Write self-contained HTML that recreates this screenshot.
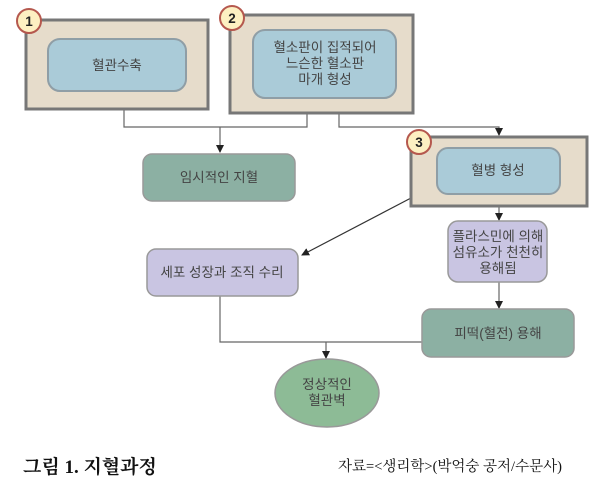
<!DOCTYPE html>
<html><head><meta charset="utf-8"><style>
body{margin:0;background:#fff;width:600px;height:498px;overflow:hidden}
svg text{font-family:"Liberation Sans","Noto Sans CJK KR",sans-serif;fill:#444;font-size:13.5px;text-anchor:middle}
</style></head><body>
<svg width="600" height="498" viewBox="0 0 600 498" xmlns="http://www.w3.org/2000/svg">
<defs><marker id="a" markerWidth="8" markerHeight="8" refX="7" refY="4" orient="auto" markerUnits="userSpaceOnUse"><path d="M0,0 L8,4 L0,8 z" fill="#222"/></marker></defs>
<g fill="none" stroke="#666" stroke-width="1.2">
<path d="M124,109 V127 H307 V113"/>
<path d="M220,127 V152" marker-end="url(#a)"/>
<path d="M339,113 V127 H499 V135" marker-end="url(#a)"/>
<path d="M411,198 L302,255" marker-end="url(#a)" stroke="#333"/>
<path d="M499,206 V220" marker-end="url(#a)"/>
<path d="M499,282 V308" marker-end="url(#a)"/>
<path d="M220,296 V342 H422"/>
<path d="M326,342 V358" marker-end="url(#a)"/>
</g>
<rect x="26" y="20" width="182" height="89" fill="#e6dccb" stroke="#777" stroke-width="3"/>
<rect x="48" y="39" width="138" height="52" rx="12" fill="#aacbd8" stroke="#8f9ea6" stroke-width="2"/>
<text x="117" y="70">혈관수축</text>
<rect x="230" y="15" width="183" height="98" fill="#e6dccb" stroke="#777" stroke-width="3"/>
<rect x="253" y="30" width="143" height="68" rx="12" fill="#aacbd8" stroke="#8f9ea6" stroke-width="2"/>
<text x="325" y="52">혈소판이 집적되어</text>
<text x="325" y="68">느슨한 혈소판</text>
<text x="325" y="84">마개 형성</text>
<rect x="143" y="154" width="152" height="47" rx="9" fill="#8cb0a3" stroke="#999" stroke-width="1.5"/>
<text x="219" y="182">임시적인 지혈</text>
<rect x="411" y="137" width="176" height="69" fill="#e6dccb" stroke="#777" stroke-width="3"/>
<rect x="437" y="148" width="123" height="46" rx="11" fill="#aacbd8" stroke="#8f9ea6" stroke-width="2"/>
<text x="498" y="175">혈병 형성</text>
<rect x="448" y="221" width="99" height="61" rx="10" fill="#c9c5e2" stroke="#999" stroke-width="1.5"/>
<text x="498" y="241">플라스민에 의해</text>
<text x="498" y="257">섬유소가 천천히</text>
<text x="498" y="273">용해됨</text>
<rect x="147" y="249" width="151" height="47" rx="9" fill="#c9c5e2" stroke="#999" stroke-width="1.5"/>
<text x="222" y="277">세포 성장과 조직 수리</text>
<rect x="422" y="309" width="152" height="48" rx="9" fill="#8cb0a3" stroke="#999" stroke-width="1.5"/>
<text x="498" y="338">피떡(혈전) 용해</text>
<ellipse cx="327" cy="393" rx="52" ry="34" fill="#8dbb96" stroke="#999" stroke-width="1.5"/>
<text x="327" y="389">정상적인</text>
<text x="327" y="405">혈관벽</text>
<g stroke="#b5584e" stroke-width="2" fill="#fdf0c2">
<circle cx="29" cy="21" r="12"/><circle cx="232" cy="18" r="12"/><circle cx="419" cy="142" r="12"/>
</g>
<g style="font-weight:bold;font-size:13px"><text x="29" y="26" style="fill:#222">1</text><text x="232" y="23" style="fill:#222">2</text><text x="419" y="147" style="fill:#222">3</text></g>
<text x="23" y="473" style="text-anchor:start;font-family:'Liberation Serif','Noto Serif CJK SC',serif;font-size:19px;font-weight:bold;fill:#111">그림 1. 지혈과정</text>
<text x="338" y="471" style="text-anchor:start;font-family:'Liberation Serif','Noto Serif CJK SC',serif;font-size:14.5px;fill:#111">자료=&lt;생리학&gt;(박억숭 공저/수문사)</text>
</svg>
</body></html>
